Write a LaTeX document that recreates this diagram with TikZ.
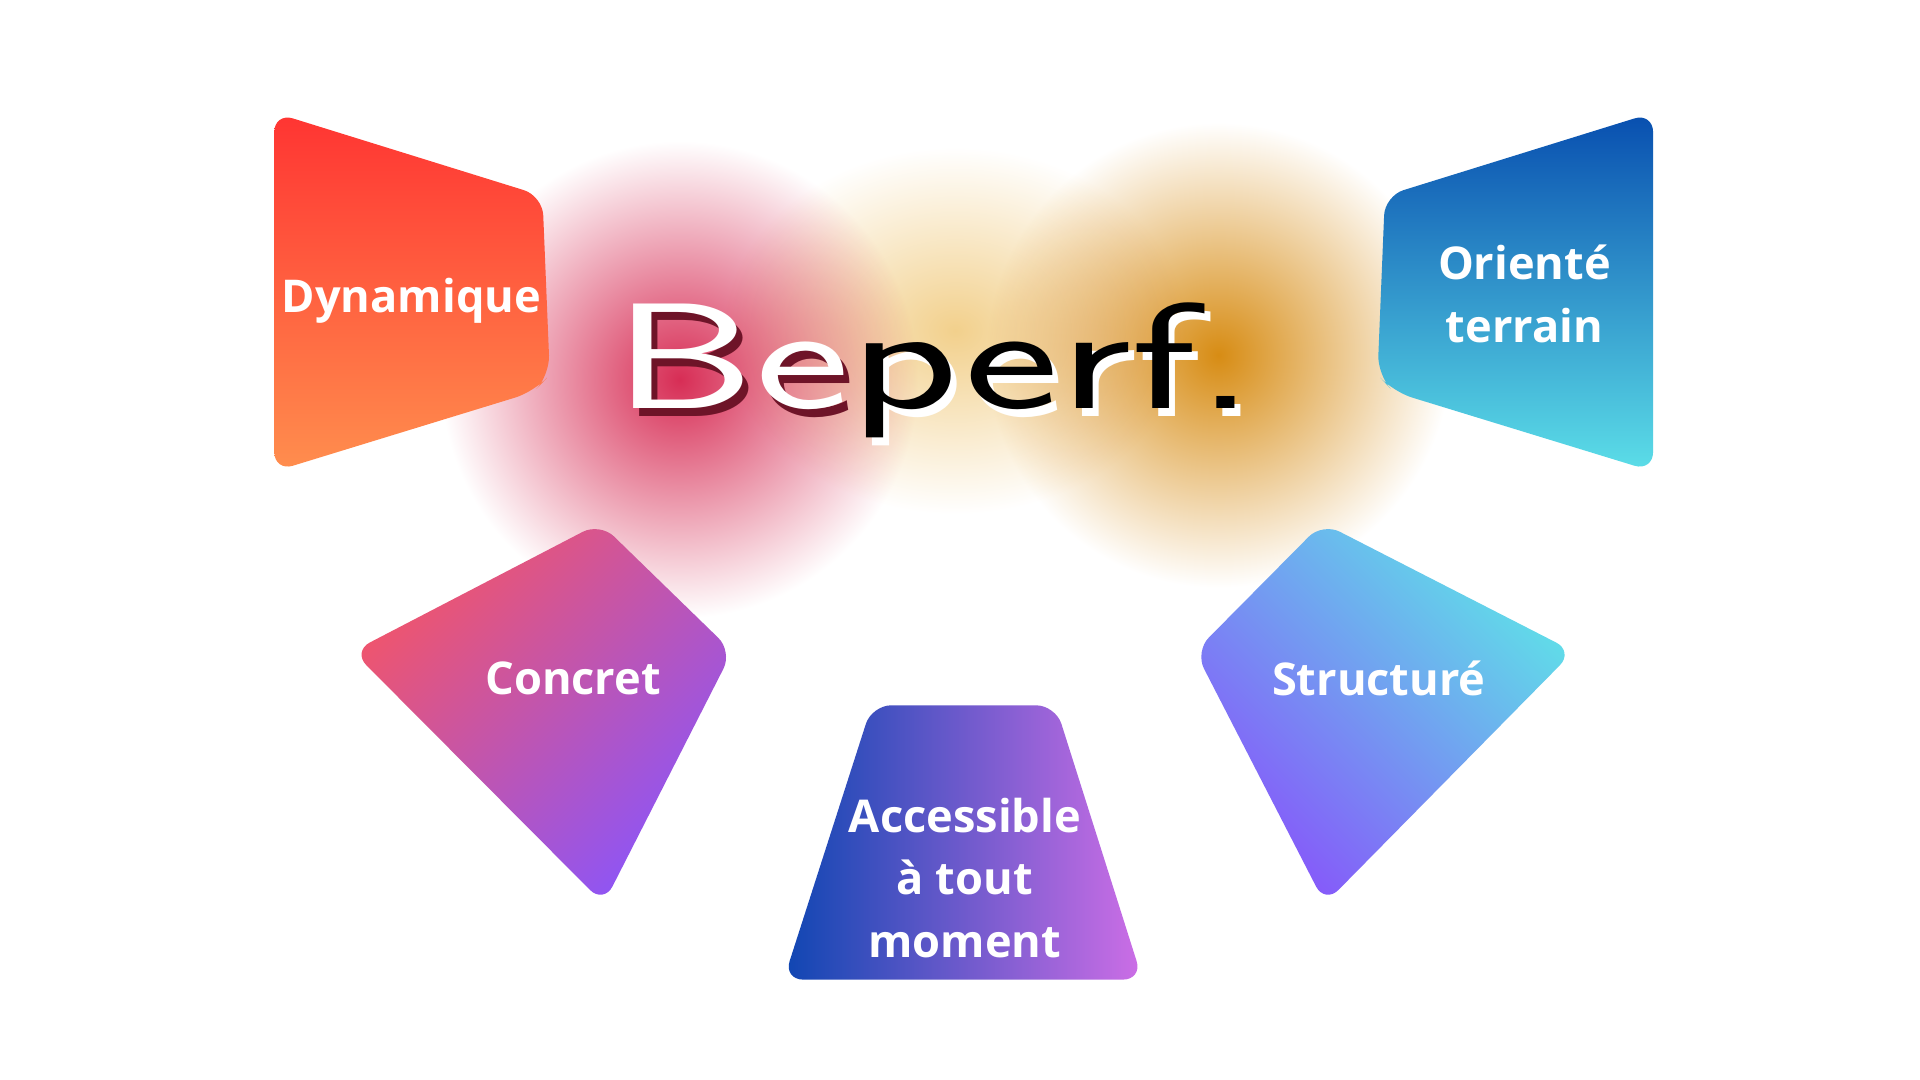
\documentclass[tikz,border=0pt]{standalone}
\usepackage{fontspec}
\setmainfont{Open Sans}
\usetikzlibrary{fadings}
\definecolor{dynA}{RGB}{255,52,50}\definecolor{dynB}{RGB}{255,142,78}
\definecolor{oriA}{RGB}{8,78,175}\definecolor{oriB}{RGB}{92,222,232}
\definecolor{conA}{RGB}{242,85,105}\definecolor{conB}{RGB}{140,85,248}
\definecolor{strA}{RGB}{95,225,232}\definecolor{strB}{RGB}{135,85,250}
\definecolor{accA}{RGB}{15,70,178}\definecolor{accB}{RGB}{205,110,230}
\definecolor{blobR}{RGB}{215,45,85}\definecolor{blobY}{RGB}{215,140,20}\definecolor{blobP}{RGB}{242,208,140}
\definecolor{shadowR}{RGB}{110,20,40}
\tikzset{
 shapebox/.style={rounded corners=9pt},
 lbl/.style={text=white,font=\fontsize{21}{29}\selectfont\bfseries,align=center},
 logo/.style={font=\sffamily\fontsize{70}{70}\selectfont,xscale=1.5,anchor=base west},
}
\begin{document}
\begin{tikzpicture}[x=0.02cm,y=-0.02cm]
\useasboundingbox (0,0) rectangle (1568,882);
\fill[white] (0,0) rectangle (1568,882);
% blobs
\begin{scope}[blend mode=multiply]
\shade[inner color=blobP,outer color=white] (780,270) ellipse (190 and 150);
\shade[inner color=blobR,outer color=white] (555,310) circle (195);
\shade[inner color=blobY,outer color=white] (995,290) circle (190);
\end{scope}
% shapes
\shade[shapebox,top color=dynA,bottom color=dynB]
 (224,92) -- (443,160) -- (449,306) -- (436,320) -- (224,385) -- cycle;
\node[lbl] (dyn) at (336,246) {Dynamique};
\shade[shapebox,top color=oriA,bottom color=oriB]
 (1350,92) -- (1131,160) -- (1125,306) -- (1138,320) -- (1350,385) -- cycle;
\node[lbl] (ori) at (1245,240) {Orienté\\terrain};
\shade[shapebox,shading=axis,left color=conA,right color=conB,shading angle=45]
 (490,427) -- (598,532) -- (493,738) -- (288,532) -- cycle;
\node[lbl] (con) at (468,554) {Concret};
\shade[shapebox,shading=axis,left color=strB,right color=strA,shading angle=135]
 (1080,427) -- (1285,532) -- (1082,738) -- (976,532) -- cycle;
\node[lbl] (str) at (1126,554) {Structuré};
\shade[shapebox,left color=accA,right color=accB]
 (712,576) -- (862,576) -- (933,800) -- (640,800) -- cycle;
\node[lbl] (acc) at (788,717) {Accessible\\à tout\\moment};
% logo
\node[logo] at (497,340) {\textcolor{shadowR}{Be}\textcolor{white}{perf.}};
\node[logo] (logo) at (492,334) {\textcolor{white}{Be}perf.};
\end{tikzpicture}
\end{document}
